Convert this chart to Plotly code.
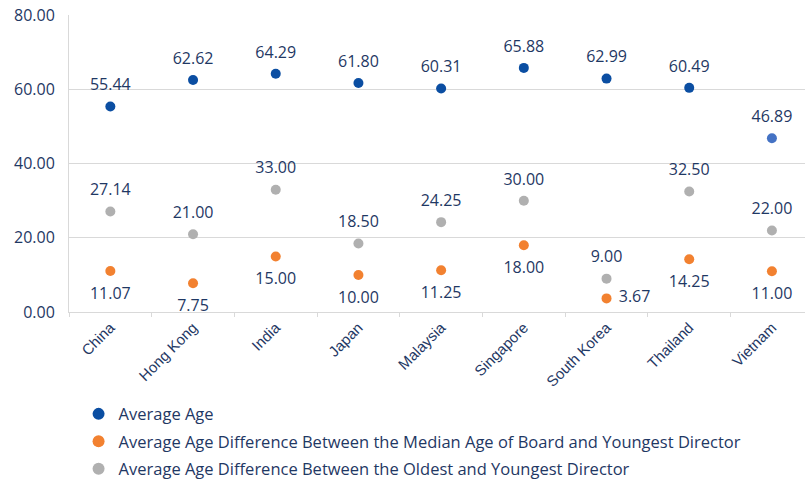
import plotly.graph_objects as go

categories = ["China", "Hong Kong", "India", "Japan", "Malaysia", "Singapore", "South Korea", "Thailand", "Vietnam"]
avg_age = [55.44, 62.62, 64.29, 61.80, 60.31, 65.88, 62.99, 60.49, 46.89]
median_diff = [11.07, 7.75, 15.00, 10.00, 11.25, 18.00, 3.67, 14.25, 11.00]
oldest_diff = [27.14, 21.00, 33.00, 18.50, 24.25, 30.00, 9.00, 32.50, 22.00]
y_ticks = [0, 20, 40, 60, 80]

navy = "#1F3864"
blue_pts = ["#0B4EA2"] * 8 + ["#4472C4"]
orange = "#F28130"
gray = "#B0B0B0"
font_family = "'Open Sans', Lato, sans-serif"
label_font = dict(size=16, color=navy, family=font_family)

median_pos = ["bottom center"] * 9
median_pos[6] = "middle right"
median_pad = [24] * 9
median_pad[6] = 18

fig = go.Figure()
series = [
    ("Average Age", avg_age, blue_pts),
    ("Average Age Difference Between the Median Age of Board and Youngest Director", median_diff, orange),
    ("Average Age Difference Between the Oldest and Youngest Director", oldest_diff, gray),
]
for i, (name, vals, col) in enumerate(series):
    fig.add_trace(go.Scatter(
        x=categories, y=vals, mode="markers", name=name, legendgroup=f"g{i}",
        marker=dict(size=10, color=col),
    ))

# data labels (offset via invisible marker size)
label_specs = [
    (avg_age, "top center", 18),
    (median_diff, median_pos, median_pad),
    (oldest_diff, "top center", 18),
]
for vals, pos, pad in label_specs:
    fig.add_trace(go.Scatter(
        x=categories, y=vals, mode="markers+text", showlegend=False, hoverinfo="skip",
        marker=dict(size=pad, opacity=0),
        text=[f"{v:.2f}" for v in vals], textposition=pos,
        textfont=label_font, cliponaxis=False,
    ))

fig.update_layout(
    width=805, height=490,
    margin=dict(l=69, r=0, t=15, b=178),
    paper_bgcolor="white", plot_bgcolor="white",
    font=dict(family=font_family, color=navy, size=15),
    showlegend=True,
    legend=dict(orientation="v", x=0.013, xanchor="left", y=-0.285, yanchor="top",
                font=dict(size=16.5, color=navy, family=font_family),
                tracegroupgap=3, itemsizing="constant"),
    xaxis=dict(
        type="category", range=[-0.5, 8.4], tickangle=-45, automargin=False,
        showline=True, linecolor="#D9D9D9", linewidth=1,
        ticks="outside", tickson="boundaries", ticklen=4, tickcolor="#D9D9D9",
        tickfont=dict(size=15, color=navy, family="'Liberation Sans', Arial, sans-serif"),
        showgrid=False,
    ),
    yaxis=dict(
        range=[0, 80.15], tickvals=y_ticks, ticktext=[f"{v:.2f}" for v in y_ticks],
        automargin=False, ticklabeloverflow="allow",
        showgrid=True, gridcolor="#D9D9D9", gridwidth=1,
        showline=True, linecolor="#D9D9D9", zeroline=False,
        tickfont=dict(size=16, color=navy), ticks="", ticklabelstandoff=10,
    ),
)
fig.write_html("out.html", config={"displayModeBar": False},
               post_script="document.body.style.margin='0';")
